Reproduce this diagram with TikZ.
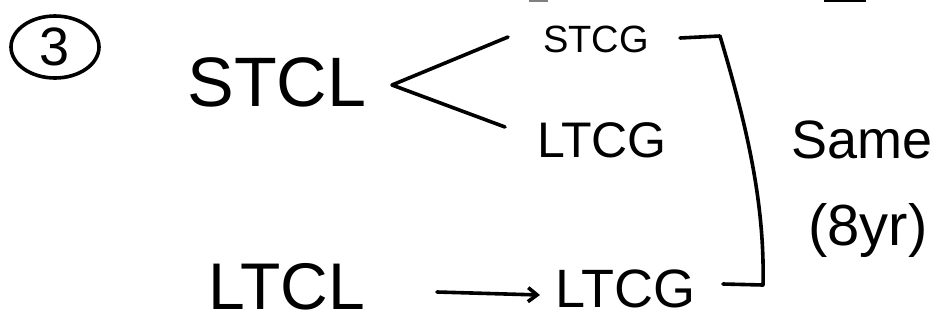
\documentclass[tikz,border=0pt]{standalone}
\usepackage{fontspec}
\setmainfont{Liberation Sans}
\usetikzlibrary{shapes.geometric,arrows.meta}
\tikzset{
  ink/.style={line width=3.6pt, line cap=round, line join=round, draw=black},
  lbl/.style={inner sep=0pt, font=\fontsize{#1}{#1}\selectfont},
}
\begin{document}
\begin{tikzpicture}[x=1pt,y=-1pt]
\useasboundingbox (0,0) rectangle (951,325);
% circled number
\node[ellipse, draw=black, line width=3.6pt, minimum width=88pt, minimum height=62pt, inner sep=0pt,
      font=\fontsize{54}{54}\selectfont] (num) at (55,47) {3};
% labels
\node[lbl=70] (stcl) at (277,82) {STCL};
\node[lbl=38] (stcgtop) at (596,39) {STCG};
\node[lbl=50] (ltcgmid) at (602,140) {LTCG};
\node[lbl=66] (ltcl) at (287,287) {LTCL};
\node[lbl=54] (ltcgbot) at (625,289) {LTCG};
\node[lbl=54] (same) at (862,140) {Same};
\node[lbl=58] (yr) at (868,230) {(8yr)};
% fork from STCL
\coordinate (fork) at (392,85);
\coordinate (forktop) at (508,37);
\coordinate (forkbot) at (505,127);
\draw[ink] (forktop) -- (fork) -- (forkbot);
% arrow LTCL -> LTCG
\coordinate (a0) at (437,292);
\coordinate (a1) at (540,295);
\draw[ink, -{Straight Barb[length=9pt,width=14pt]}] (a0) -- (a1);
% bracket
\coordinate (b0) at (680,38);
\coordinate (b1) at (720,36);
\coordinate (b2) at (763,285);
\coordinate (b3) at (723,284);
\draw[ink] (b0) -- (b1) .. controls (745,120) and (765,200) .. (b2) -- (b3);
% cut-off marks at top edge
\draw[line width=2pt, gray] (529,0.5) -- (548,0.5);
\draw[line width=2.5pt, black] (824,0.5) -- (866,0.5);
\end{tikzpicture}
\end{document}
